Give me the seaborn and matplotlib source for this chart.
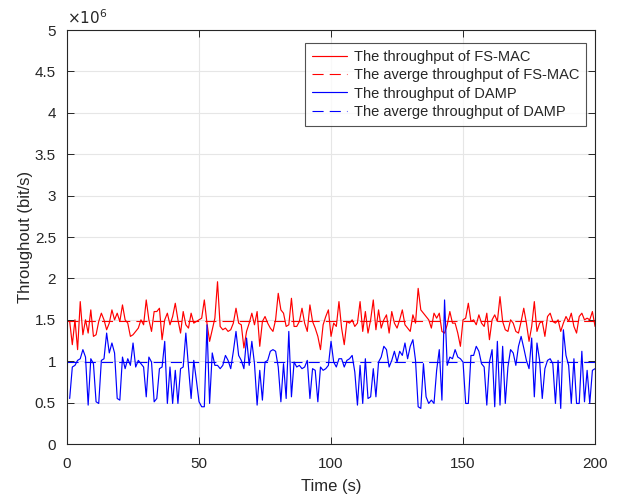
import numpy as np
import pandas as pd
import matplotlib
matplotlib.use("Agg")
import matplotlib.pyplot as plt
import seaborn as sns
from matplotlib.ticker import FuncFormatter

# ---- data (throughput values in 1e6 bit/s) ----
time_s = list(range(1, 201))

fsmac = [
    1.48, 1.20, 1.50, 1.14, 1.72, 1.32, 1.50, 1.34, 1.62, 1.30,
    1.32, 1.48, 1.58, 1.50, 1.38, 1.46, 1.62, 1.50, 1.58, 1.48,
    1.68, 1.50, 1.46, 1.30, 1.32, 1.36, 1.40, 1.50, 1.44, 1.74,
    1.50, 1.36, 1.60, 1.60, 1.64, 1.26, 1.50, 1.58, 1.44, 1.54,
    1.70, 1.50, 1.34, 1.60, 1.44, 1.40, 1.58, 1.46, 1.48, 1.50,
    1.52, 1.74, 1.46, 1.24, 1.38, 1.52, 1.96, 1.42, 1.38, 1.40,
    1.36, 1.38, 1.46, 1.64, 1.46, 1.44, 1.16, 1.36, 1.46, 1.58,
    1.44, 1.60, 1.18, 1.48, 1.54, 1.46, 1.40, 1.36, 1.50, 1.82,
    1.62, 1.58, 1.42, 1.44, 1.76, 1.42, 1.42, 1.48, 1.64, 1.46,
    1.36, 1.68, 1.48, 1.40, 1.30, 1.14, 1.44, 1.54, 1.62, 1.30,
    1.46, 1.42, 1.72, 1.40, 1.20, 1.48, 1.46, 1.50, 1.42, 1.46,
    1.72, 1.36, 1.60, 1.34, 1.50, 1.74, 1.38, 1.62, 1.40, 1.50,
    1.56, 1.34, 1.60, 1.46, 1.40, 1.50, 1.62, 1.44, 1.40, 1.36,
    1.56, 1.46, 1.88, 1.62, 1.58, 1.54, 1.50, 1.40, 1.58, 1.52,
    1.58, 1.36, 1.34, 1.44, 1.60, 1.46, 1.46, 1.34, 1.18, 1.50,
    1.52, 1.70, 1.48, 1.50, 1.44, 1.56, 1.46, 1.42, 1.58, 1.26,
    1.50, 1.56, 1.48, 1.78, 1.48, 1.38, 1.36, 1.50, 1.46, 1.36,
    1.34, 1.48, 1.64, 1.46, 1.24, 1.42, 1.72, 1.36, 1.46, 1.48,
    1.30, 1.54, 1.58, 1.48, 1.46, 1.50, 1.36, 1.46, 1.54, 1.48,
    1.58, 1.42, 1.34, 1.54, 1.58, 1.50, 1.52, 1.50, 1.60, 1.42,
]

damp = [
    0.55, 0.93, 0.95, 1.01, 1.03, 1.14, 1.05, 0.47, 1.03, 0.97,
    0.51, 0.49, 1.01, 1.03, 1.34, 1.10, 1.22, 1.10, 0.55, 0.53,
    1.05, 0.91, 1.03, 0.95, 1.22, 0.93, 1.01, 0.97, 0.93, 0.57,
    1.05, 0.99, 0.51, 0.55, 0.91, 0.93, 1.24, 0.49, 0.93, 0.49,
    0.89, 0.49, 0.91, 0.93, 1.34, 0.93, 0.55, 1.01, 0.77, 0.51,
    0.45, 0.45, 1.44, 0.49, 1.10, 0.95, 0.95, 0.91, 0.95, 1.07,
    1.01, 0.91, 1.12, 1.36, 1.07, 1.01, 0.91, 1.28, 0.95, 1.24,
    0.97, 0.47, 0.89, 0.53, 0.99, 1.01, 1.12, 1.14, 1.12, 0.93,
    0.51, 0.97, 0.55, 1.36, 0.57, 0.99, 0.93, 0.95, 0.91, 0.93,
    1.01, 0.55, 0.91, 0.89, 0.51, 0.93, 0.89, 0.91, 0.95, 1.24,
    0.99, 0.93, 1.03, 1.03, 0.93, 1.01, 1.03, 1.07, 0.87, 0.47,
    0.95, 0.49, 1.03, 0.55, 0.57, 0.91, 0.57, 0.99, 1.05, 1.18,
    1.14, 0.93, 1.01, 1.12, 0.99, 1.12, 1.07, 1.22, 1.03, 1.18,
    1.26, 1.01, 0.45, 0.43, 0.97, 0.57, 0.49, 0.53, 0.49, 0.89,
    1.14, 0.53, 1.74, 0.95, 1.05, 1.03, 1.14, 1.05, 1.03, 0.99,
    0.49, 0.49, 1.07, 1.07, 1.18, 1.12, 0.97, 0.93, 0.47, 0.99,
    1.14, 0.45, 1.24, 0.47, 1.18, 0.49, 0.93, 1.14, 1.10, 0.95,
    1.18, 1.30, 1.16, 1.01, 0.91, 1.28, 0.57, 1.22, 1.01, 0.55,
    0.91, 1.01, 1.03, 0.97, 0.49, 1.01, 0.43, 1.38, 1.07, 0.95,
    0.49, 1.03, 0.49, 0.49, 1.12, 0.51, 0.89, 0.49, 0.89, 0.91,
]

avg_fsmac = 1.48   # 1e6 bit/s
avg_damp = 0.99    # 1e6 bit/s
avg_span = [0, 200]

labels = [
    "The throughput of FS-MAC",
    "The averge throughput of FS-MAC",
    "The throughput of DAMP",
    "The averge throughput of DAMP",
]
y_ticks = [0, 0.5, 1, 1.5, 2, 2.5, 3, 3.5, 4, 4.5, 5]
x_ticks = [0, 50, 100, 150, 200]

SCALE = 1e6

df_fs = pd.DataFrame({"t": time_s, "v": np.array(fsmac) * SCALE})
df_dm = pd.DataFrame({"t": time_s, "v": np.array(damp) * SCALE})
df_avg_fs = pd.DataFrame({"t": avg_span, "v": [avg_fsmac * SCALE] * 2})
df_avg_dm = pd.DataFrame({"t": avg_span, "v": [avg_damp * SCALE] * 2})

sns.set_theme(style="white")
plt.rcParams["font.family"] = ["Liberation Sans", "DejaVu Sans"]

fig = plt.figure(figsize=(6.19, 4.97), dpi=100)
ax = fig.add_axes([0.1083, 0.1066, 0.8530, 0.8330])

dash = (0, (10, 5.5))
sns.lineplot(data=df_fs, x="t", y="v", ax=ax, color="#ff0000", lw=0.85,
             label=labels[0])
sns.lineplot(data=df_avg_fs, x="t", y="v", ax=ax, color="#ff0000", lw=0.8,
             linestyle=dash, label=labels[1])
sns.lineplot(data=df_dm, x="t", y="v", ax=ax, color="#0000ff", lw=0.85,
             label=labels[2])
sns.lineplot(data=df_avg_dm, x="t", y="v", ax=ax, color="#0000ff", lw=0.8,
             linestyle=dash, label=labels[3])

ax.set_xlim(0, 200)
ax.set_ylim(0, 5 * SCALE)
ax.set_xticks(x_ticks)
ax.set_yticks([t * SCALE for t in y_ticks])
ax.yaxis.set_major_formatter(FuncFormatter(lambda v, p: f"{v / SCALE:g}"))
ax.grid(True, color="#e6e6e6", lw=0.8)
ax.set_axisbelow(True)

for s in ax.spines.values():
    s.set_color("#262626")
    s.set_linewidth(0.8)
ax.tick_params(axis="both", which="both", direction="in", length=5,
               width=0.7, color="#262626", labelsize=11, labelcolor="#262626",
               top=True, right=True, bottom=True, left=True)
ax.tick_params(axis="x", pad=9)
ax.tick_params(axis="y", pad=8)

ax.set_xlabel("Time (s)", fontsize=12, color="#262626", labelpad=6)
ax.set_ylabel("Throughout (bit/s)", fontsize=12, color="#262626", labelpad=1.5)

ax.text(0.0, 1.008, r"$\times10^{6}$", transform=ax.transAxes,
        fontsize=11, color="#262626", ha="left", va="bottom")

leg = ax.legend(loc="upper right", bbox_to_anchor=(0.983, 0.968),
                fontsize=10.5, frameon=True, fancybox=False,
                handlelength=2.4, handletextpad=0.5, borderpad=0.45,
                labelspacing=0.3, borderaxespad=0.0)
leg.get_frame().set_edgecolor("#262626")
leg.get_frame().set_linewidth(0.8)

fig.savefig("out.png", dpi=100)
